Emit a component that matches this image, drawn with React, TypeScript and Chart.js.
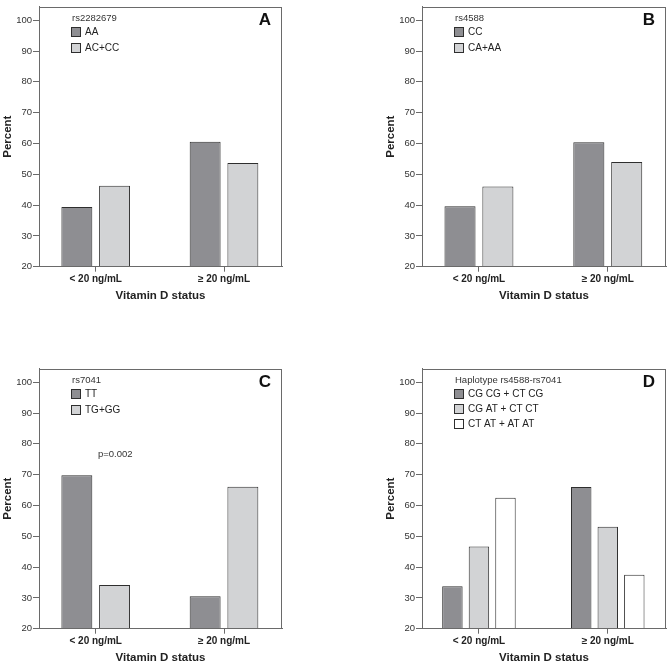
import { useEffect, useRef } from 'react';
import { Chart, registerables } from 'chart.js';

Chart.register(...registerables);

const FONT = '"Liberation Sans", Arial, Helvetica, sans-serif';

// ---- data ----
const categories = ['< 20 ng/mL', '\u2265 20 ng/mL'];
const categoryPositions = [0, 1];
const yTicks = [20, 30, 40, 50, 60, 70, 80, 90, 100];

const rs2282679AA = [39.4, 60.6];
const rs2282679ACCC = [46.3, 53.7];

const rs4588CC = [39.6, 60.4];
const rs4588CAAA = [46.0, 54.0];

const rs7041TT = [69.8, 30.5];
const rs7041TGGG = [34.2, 66.1];

const hapCGCG = [33.8, 66.0];
const hapCGAT = [46.7, 53.1];
const hapCTAT = [62.5, 37.5];

const pValueText = 'p=0.002';

// ---- styles ----
const DARK = '#8e8e92';
const LIGHT = '#d2d3d5';
const WHITE = '#ffffff';
const BAR_BORDER = '#2e2e2e';
const FRAME = '#6a6a6a';
const TEXT = '#333333';

type DS = { label: string; values: number[]; color: string };

const panelDeco = {
  id: 'panelDeco',
  afterDraw(chart: any, _args: any, opts: any) {
    const { ctx, chartArea: ca } = chart;
    ctx.save();
    // frame
    ctx.strokeStyle = FRAME;
    ctx.lineWidth = 1;
    const l = Math.round(ca.left) + 0.5;
    const t = Math.round(ca.top) + 0.5;
    const r = Math.round(ca.right) - 0.5;
    const b = Math.round(ca.bottom) - 0.5;
    ctx.strokeRect(l, t, r - l, b - t);
    // panel letter
    ctx.font = `bold 17px ${FONT}`;
    ctx.fillStyle = '#111';
    ctx.textAlign = 'right';
    ctx.textBaseline = 'middle';
    ctx.fillText(opts.letter, ca.right - 11, ca.top + 14);
    // legend title
    ctx.textAlign = 'left';
    ctx.font = `9.5px ${FONT}`;
    ctx.fillStyle = TEXT;
    ctx.fillText(opts.legendTitle, ca.left + 33, ca.top + 12);
    // legend items
    const step = opts.rowStep || 15.5;
    chart.data.datasets.forEach((ds: any, i: number) => {
      const yc = Math.round(ca.top + 25.5 + i * step);
      const x = Math.round(ca.left + 32);
      ctx.fillStyle = ds.backgroundColor;
      ctx.fillRect(x, yc - 5, 10, 10);
      ctx.strokeStyle = BAR_BORDER;
      ctx.lineWidth = 1;
      ctx.strokeRect(x + 0.5, yc - 4.5, 9, 9);
      ctx.fillStyle = '#222';
      ctx.font = `10px ${FONT}`;
      ctx.fillText(ds.label, ca.left + 46, yc + 0.5);
    });
    if (opts.note) {
      const ys = chart.scales.y;
      ctx.font = `9.5px ${FONT}`;
      ctx.fillStyle = TEXT;
      ctx.fillText(opts.note, ca.left + 59, ys.getPixelForValue(opts.noteY));
    }
    ctx.restore();
  },
};

function makeConfig(
  datasets: DS[],
  letter: string,
  legendTitle: string,
  catPct: number,
  barPct: number,
  padRight: number,
  note?: string,
  noteY?: number
): any {
  return {
    type: 'bar',
    data: {
      datasets: datasets.map((d) => ({
        label: d.label,
        data: d.values.map((v, i) => ({ x: categoryPositions[i], y: v })),
        backgroundColor: d.color,
        borderColor: BAR_BORDER,
        borderWidth: 1,
        categoryPercentage: catPct,
        barPercentage: barPct,
      })),
    },
    options: {
      responsive: false,
      animation: false,
      devicePixelRatio: 1,
      layout: { padding: { top: 2, right: padRight, left: 0, bottom: 0 } },
      plugins: {
        legend: { display: false },
        tooltip: { enabled: false },
        panelDeco: { letter, legendTitle, note, noteY },
      },
      scales: {
        x: {
          type: 'linear',
          min: -0.442,
          max: 1.452,
          offset: false,
          afterBuildTicks: (s: any) => {
            s.ticks = categoryPositions.map((v) => ({ value: v }));
          },
          afterFit: (s: any) => {
            s.height = 35.3;
          },
          ticks: {
            autoSkip: false,
            maxRotation: 0,
            padding: 2,
            color: '#222',
            font: { family: FONT, size: 10, weight: 'bold' },
            callback: (_v: any, i: number) => categories[i],
          },
          grid: {
            display: true,
            offset: false,
            drawOnChartArea: false,
            drawTicks: true,
            tickLength: 5,
            color: FRAME,
          },
          border: { display: true, color: FRAME },
          title: {
            display: true,
            text: 'Vitamin D status',
            color: '#222',
            font: { family: FONT, size: 11.5, weight: 'bold', lineHeight: 1 },
            padding: { top: 0, bottom: 0 },
          },
        },
        y: {
          type: 'linear',
          min: 20,
          max: 104.4,
          afterBuildTicks: (s: any) => {
            s.ticks = yTicks.map((v) => ({ value: v }));
          },
          afterFit: (s: any) => {
            s.width = 39;
          },
          ticks: {
            padding: 1,
            color: TEXT,
            font: { family: FONT, size: 9.5 },
            callback: (v: any) => String(v),
          },
          grid: {
            display: true,
            drawOnChartArea: false,
            drawTicks: true,
            tickLength: 6,
            color: FRAME,
          },
          border: { display: true, color: FRAME },
          title: {
            display: true,
            text: 'Percent',
            color: '#222',
            font: { family: FONT, size: 11.5, weight: 'bold', lineHeight: 1.2 },
            padding: { top: 0.6, bottom: 0 },
          },
        },
      },
    },
    plugins: [panelDeco],
  };
}

function Panel(props: { left: number; top: number; width: number; height: number; config: any }) {
  const ref = useRef<HTMLCanvasElement | null>(null);
  useEffect(() => {
    if (!ref.current) return;
    const chart = new Chart(ref.current, props.config);
    return () => chart.destroy();
  }, []);
  return (
    <canvas
      ref={ref}
      width={props.width}
      height={props.height}
      style={{
        position: 'absolute',
        left: props.left,
        top: props.top,
        width: props.width,
        height: props.height,
      }}
    />
  );
}

export default function App() {
  const cfgA = makeConfig(
    [
      { label: 'AA', values: rs2282679AA, color: DARK },
      { label: 'AC+CC', values: rs2282679ACCC, color: LIGHT },
    ],
    'A',
    'rs2282679',
    0.588,
    0.82,
    52
  );
  const cfgB = makeConfig(
    [
      { label: 'CC', values: rs4588CC, color: DARK },
      { label: 'CA+AA', values: rs4588CAAA, color: LIGHT },
    ],
    'B',
    'rs4588',
    0.588,
    0.82,
    2
  );
  const cfgC = makeConfig(
    [
      { label: 'TT', values: rs7041TT, color: DARK },
      { label: 'TG+GG', values: rs7041TGGG, color: LIGHT },
    ],
    'C',
    'rs7041',
    0.588,
    0.82,
    52,
    pValueText,
    76.5
  );
  const cfgD = makeConfig(
    [
      { label: 'CG CG + CT CG', values: hapCGCG, color: DARK },
      { label: 'CG AT + CT CT', values: hapCGAT, color: LIGHT },
      { label: 'CT AT + AT AT', values: hapCTAT, color: WHITE },
    ],
    'D',
    'Haplotype rs4588-rs7041',
    0.618,
    0.77,
    2
  );
  cfgD.options.plugins.panelDeco.rowStep = 15;
  return (
    <div
      style={{
        position: 'absolute',
        left: 0,
        top: 0,
        width: 668,
        height: 664,
        background: '#fff',
        overflow: 'hidden',
      }}
    >
      <Panel left={0} top={0} width={334} height={302} config={cfgA} />
      <Panel left={383} top={0} width={285} height={302} config={cfgB} />
      <Panel left={0} top={362} width={334} height={302} config={cfgC} />
      <Panel left={383} top={362} width={285} height={302} config={cfgD} />
    </div>
  );
}
